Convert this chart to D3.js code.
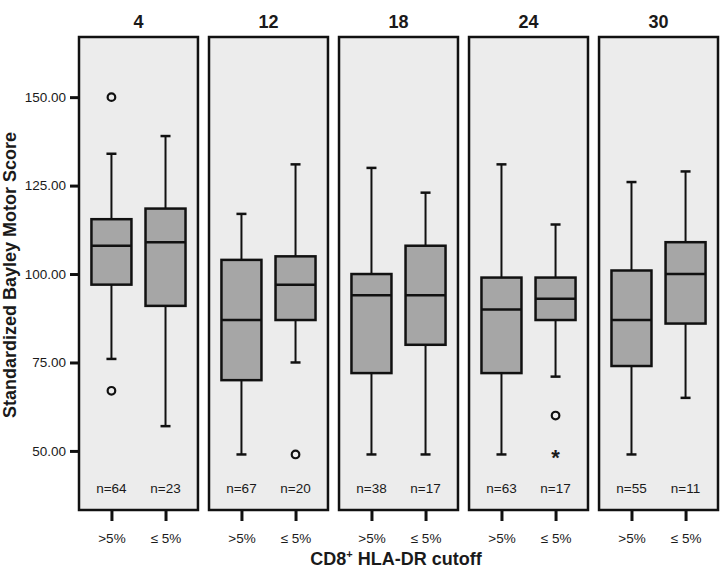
<!DOCTYPE html>
<html>
<head>
<meta charset="utf-8">
<title>Bayley Motor Score by CD8+ HLA-DR cutoff</title>
<script src="https://d3js.org/d3.v7.min.js"></script>
<style>
  body { margin: 0; background: #fff; }
  text { font-family: "Liberation Sans", Arial, sans-serif; fill: #1a1a1a; }
</style>
</head>
<body>
<div id="chart"></div>
<script>
// ages (months) shown as panel headers
var panels = ["4", "12", "18", "24", "30"];
var groups = [">5%", "\u2264 5%"];

// per panel: [>5%, <=5%]
var nCounts     = [[64, 23], [67, 20], [38, 17], [63, 17], [55, 11]];
var lowWhisker  = [[76, 57], [49, 75], [49, 49], [49, 71], [49, 65]];
var q1          = [[97, 91], [70, 87], [72, 80], [72, 87], [74, 86]];
var median      = [[108, 109], [87, 97], [94, 94], [90, 93], [87, 100]];
var q3          = [[115.5, 118.5], [104, 105], [100, 108], [99, 99], [101, 109]];
var highWhisker = [[134, 139], [117, 131], [130, 123], [131, 114], [126, 129]];
var outliers    = [[[150, 67], []], [[], [49]], [[], []], [[], [60]], [[], []]];
var extremes    = [[[], []], [[], []], [[], []], [[], [49]], [[], []]];

var yTicks = [50, 75, 100, 125, 150];

var width = 720, height = 568;
var plotTop = 37, plotBottom = 510, plotLeft = 79, plotRight = 718;
var boxWidth = 40, capWidth = 10;

var svg = d3.select("#chart").append("svg")
    .attr("width", width)
    .attr("height", height);

var y = d3.scaleLinear().domain([33.3, 167]).range([plotBottom, plotTop]);

var px = d3.scaleBand().domain(panels).range([plotLeft, plotRight])
    .paddingInner(0.085).paddingOuter(0);

var gx = d3.scalePoint().domain(groups).range([0, px.bandwidth()]).padding(0.6);

// y axis on the first panel
var yAxis = d3.axisLeft(y).tickValues(yTicks).tickSize(8).tickPadding(4)
    .tickFormat(d3.format(".2f"));
var ya = svg.append("g")
    .attr("transform", "translate(" + (plotLeft - 1) + ",0)")
    .call(yAxis);
ya.select(".domain").remove();
ya.selectAll(".tick line").attr("stroke", "#111").attr("stroke-width", 3);
ya.selectAll(".tick text").style("font-size", "13.5px").attr("fill", "#1a1a1a");

panels.forEach(function(p, i) {
    var g = svg.append("g").attr("transform", "translate(" + px(p) + ",0)");

    g.append("rect")
        .attr("x", 0).attr("y", plotTop)
        .attr("width", px.bandwidth()).attr("height", plotBottom - plotTop)
        .attr("fill", "#ececec")
        .attr("stroke", "#111").attr("stroke-width", 2.5);

    g.append("text")
        .attr("x", px.bandwidth() / 2).attr("y", 28)
        .attr("text-anchor", "middle")
        .style("font-size", "18px").style("font-weight", "bold")
        .text(p);

    groups.forEach(function(grp, j) {
        var cx = gx(grp);
        // whiskers
        g.append("line")
            .attr("x1", cx).attr("x2", cx)
            .attr("y1", y(highWhisker[i][j])).attr("y2", y(q3[i][j]))
            .attr("stroke", "#111").attr("stroke-width", 2);
        g.append("line")
            .attr("x1", cx).attr("x2", cx)
            .attr("y1", y(q1[i][j])).attr("y2", y(lowWhisker[i][j]))
            .attr("stroke", "#111").attr("stroke-width", 2);
        [highWhisker[i][j], lowWhisker[i][j]].forEach(function(v) {
            g.append("line")
                .attr("x1", cx - capWidth / 2).attr("x2", cx + capWidth / 2)
                .attr("y1", y(v)).attr("y2", y(v))
                .attr("stroke", "#111").attr("stroke-width", 2.5);
        });
        // box
        g.append("rect")
            .attr("x", cx - boxWidth / 2).attr("y", y(q3[i][j]))
            .attr("width", boxWidth).attr("height", y(q1[i][j]) - y(q3[i][j]))
            .attr("fill", "#a6a6a6")
            .attr("stroke", "#111").attr("stroke-width", 2.5);
        g.append("line")
            .attr("x1", cx - boxWidth / 2).attr("x2", cx + boxWidth / 2)
            .attr("y1", y(median[i][j])).attr("y2", y(median[i][j]))
            .attr("stroke", "#111").attr("stroke-width", 2.5);
        // outliers
        outliers[i][j].forEach(function(v) {
            g.append("circle")
                .attr("cx", cx).attr("cy", y(v)).attr("r", 3.8)
                .attr("fill", "none").attr("stroke", "#111").attr("stroke-width", 2.2);
        });
        extremes[i][j].forEach(function(v) {
            g.append("text")
                .attr("x", cx).attr("y", y(v) + 11)
                .attr("text-anchor", "middle")
                .style("font-size", "22px").style("font-weight", "bold")
                .text("*");
        });
        // n label
        g.append("text")
            .attr("x", cx).attr("y", 493)
            .attr("text-anchor", "middle")
            .style("font-size", "13.5px")
            .text("n=" + nCounts[i][j]);
    });

    var xAxis = d3.axisBottom(gx).tickSize(10).tickPadding(12);
    var xa = g.append("g")
        .attr("transform", "translate(0," + (plotBottom + 1) + ")")
        .call(xAxis);
    xa.select(".domain").remove();
    xa.selectAll(".tick line").attr("stroke", "#111").attr("stroke-width", 3);
    xa.selectAll(".tick text").style("font-size", "13.5px").attr("fill", "#1a1a1a");
});

// axis titles
var xt = svg.append("text")
    .attr("x", 396).attr("y", 565)
    .attr("text-anchor", "middle")
    .style("font-size", "18px").style("font-weight", "bold");
xt.append("tspan").text("CD8");
xt.append("tspan").attr("dy", -7).style("font-size", "11px").text("+");
xt.append("tspan").attr("dy", 7).text(" HLA-DR cutoff");

svg.append("text")
    .attr("transform", "translate(16,275) rotate(-90)")
    .attr("text-anchor", "middle")
    .style("font-size", "18px").style("font-weight", "bold")
    .text("Standardized Bayley Motor Score");
</script>
</body>
</html>
